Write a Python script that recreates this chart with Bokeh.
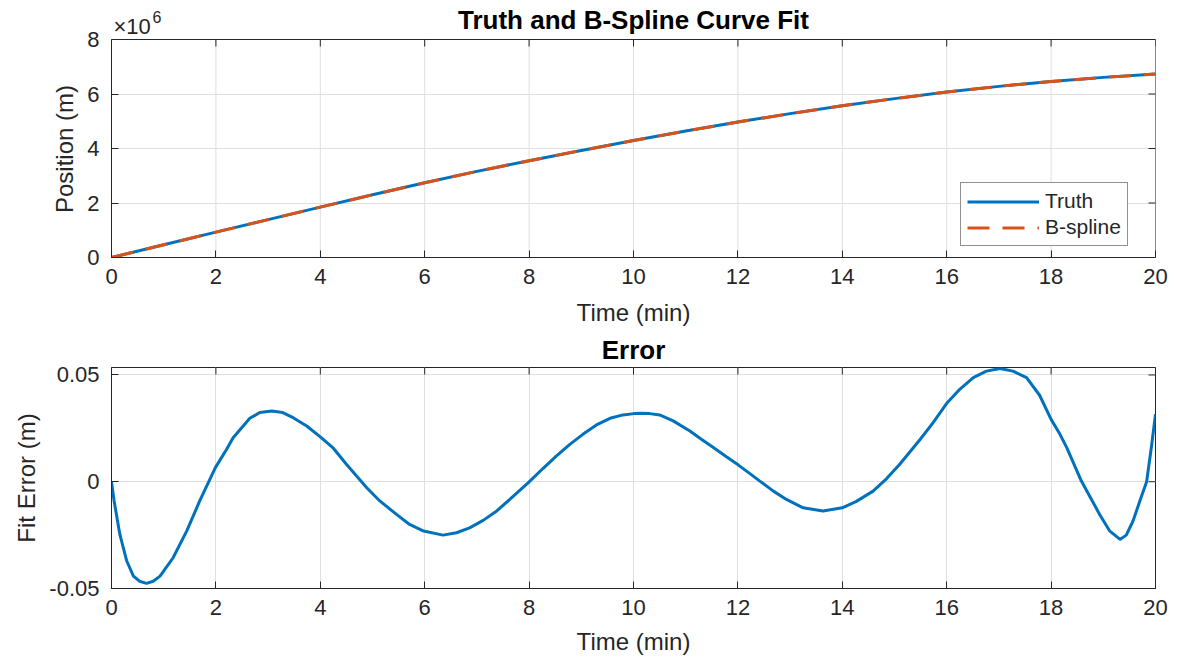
import math
from bokeh.plotting import figure
from bokeh.layouts import column
from bokeh.models import (Range1d, FixedTicker, CustomJSTickFormatter,
                          Legend, LegendItem, Label, Title)
from bokeh.embed import file_html
from bokeh.resources import INLINE

# ---------------- data ----------------
t_pos = [0, 1, 2, 3, 4, 5, 6, 7, 8, 9, 10, 11, 12, 13, 14, 15, 16, 17, 18, 19, 20]
pos_truth = [0, 0.465e6, 0.93e6, 1.39e6, 1.85e6, 2.30e6, 2.74e6, 3.16e6, 3.55e6, 3.93e6,
             4.29e6, 4.64e6, 4.97e6, 5.28e6, 5.57e6, 5.83e6, 6.07e6, 6.28e6, 6.46e6,
             6.61e6, 6.73e6]
pos_bspline = list(pos_truth)

t_err = [0, 0.05, 0.16, 0.29, 0.42, 0.54, 0.67, 0.8, 0.93, 1.18, 1.44, 1.69, 1.99, 2.2,
         2.33, 2.65, 2.84, 3.07, 3.28, 3.48, 3.74, 4.0, 4.25, 4.5, 4.89, 5.14, 5.46,
         5.71, 5.98, 6.35, 6.61, 6.86, 7.12, 7.38, 7.63, 7.98, 8.27, 8.52, 8.78, 9.03,
         9.29, 9.55, 9.8, 10.01, 10.15, 10.31, 10.5, 10.76, 11.08, 11.3, 11.53, 11.78,
         12.01, 12.23, 12.42, 12.68, 12.93, 13.25, 13.63, 14.0, 14.27, 14.59, 14.85,
         15.1, 15.49, 15.74, 16.01, 16.25, 16.51, 16.76, 17.02, 17.27, 17.53, 17.78,
         18.0, 18.17, 18.3, 18.58, 18.93, 19.12, 19.32, 19.44, 19.57, 19.7, 19.83,
         19.92, 20.0]
err = [0, -0.009, -0.0247, -0.037, -0.0442, -0.0466, -0.0476, -0.0466, -0.0442, -0.0356,
       -0.0231, -0.009, 0.0066, 0.0150, 0.0206, 0.0297, 0.0324, 0.0331, 0.0324, 0.030,
       0.0261, 0.021, 0.0157, 0.0082, -0.0028, -0.009, -0.0153, -0.020, -0.0231, -0.025,
       -0.0239, -0.0216, -0.0181, -0.0137, -0.0083, -0.0005, 0.0063, 0.012, 0.0175,
       0.0222, 0.0266, 0.0297, 0.0313, 0.0319, 0.0321, 0.0319, 0.0313, 0.0285, 0.0238,
       0.0199, 0.016, 0.0117, 0.0078, 0.0038, 0.0003, -0.0044, -0.0083, -0.0122,
       -0.0137, -0.0122, -0.0092, -0.0044, 0.0015, 0.0082, 0.0198, 0.0277, 0.037,
       0.0433, 0.0488, 0.0518, 0.053, 0.0518, 0.0488, 0.0405, 0.0292, 0.0222, 0.016,
       0.0003, -0.0153, -0.023, -0.027, -0.025, -0.0184, -0.009, 0.0, 0.016, 0.0316]

x_ticks = [0, 2, 4, 6, 8, 10, 12, 14, 16, 18, 20]
pos_ticks = [0, 2e6, 4e6, 6e6, 8e6]
err_ticks = [-0.05, 0, 0.05]
X_MIN, X_MAX = 0, 20
POS_MIN, POS_MAX = 0, 8e6
ERR_MIN, ERR_MAX = -0.05, 0.0535

BLUE = "#0072BD"
ORANGE = "#D95319"
AX = "#262626"
GRID = "#dfdfdf"
FONT = "Liberation Sans"
TICK_FS = "22px"
LAB_FS = "24px"
TITLE_FS = "26px"
TICK_LEN = 7
NBSP = "\u00a0"

W = 1177


def style_axes(p):
    for ax in p.axis:
        ax.axis_line_color = AX
        ax.major_tick_line_color = AX
        ax.major_tick_in = TICK_LEN
        ax.major_tick_out = 0
        ax.minor_tick_line_color = None
        ax.major_label_text_font = FONT
        ax.major_label_text_font_size = TICK_FS
        ax.major_label_text_color = AX
        ax.axis_label_text_font = FONT
        ax.axis_label_text_font_size = LAB_FS
        ax.axis_label_text_font_style = "normal"
        ax.axis_label_text_color = AX
        ax.major_label_standoff = 12
        ax.axis_label_standoff = 6
    p.xaxis.major_label_standoff = 11
    p.xaxis.axis_label_standoff = 12


def box_ticks(p, y_top, yticks):
    # inward tick marks on the top and right edges of the box
    p.ray(x=x_ticks, y=[y_top] * len(x_ticks), length=TICK_LEN, length_units="screen",
          angle=-math.pi / 2, line_color=AX, line_width=1)
    p.ray(x=[X_MAX] * len(yticks), y=yticks, length=TICK_LEN, length_units="screen",
          angle=math.pi, line_color=AX, line_width=1)


# ---------------- top figure ----------------
# the frame also holds the title area above the box (box = 0..8e6)
TOP_FRAME_H = 257
TOP_BOX_H = 218
p1 = figure(width=W, height=328, output_backend="svg", toolbar_location=None,
            x_range=Range1d(X_MIN, X_MAX),
            y_range=Range1d(POS_MIN, POS_MAX * TOP_FRAME_H / TOP_BOX_H),
            min_border_left=111, min_border_right=W - 1156, min_border_top=0,
            min_border_bottom=71)
p1.outline_line_color = None
p1.xgrid.visible = False
p1.ygrid.ticker = FixedTicker(ticks=pos_ticks)
p1.ygrid.grid_line_color = GRID
# vertical grid lines limited to the box
p1.segment(x0=x_ticks, y0=[POS_MIN] * len(x_ticks), x1=x_ticks,
           y1=[POS_MAX] * len(x_ticks), line_color=GRID, line_width=1)
# box top and right edges
p1.segment(x0=[X_MIN, X_MAX], y0=[POS_MAX, POS_MIN], x1=[X_MAX, X_MAX],
           y1=[POS_MAX, POS_MAX], line_color=AX, line_width=1)
box_ticks(p1, POS_MAX, pos_ticks)

r_truth = p1.line(t_pos, pos_truth, line_color=BLUE, line_width=3)
r_bs = p1.line(t_pos, pos_bspline, line_color=ORANGE, line_width=3, line_dash="22 13")

p1.xaxis.ticker = FixedTicker(ticks=x_ticks)
p1.yaxis.ticker = FixedTicker(ticks=pos_ticks)
p1.yaxis.bounds = (POS_MIN, POS_MAX)
p1.yaxis.formatter = CustomJSTickFormatter(code="return (tick/1e6).toFixed(0);")
p1.xaxis.axis_label = "Time (min)"
# trailing no-break spaces centre the rotated label on the box, not the frame
p1.yaxis.axis_label = "Position (m)" + NBSP * 6
style_axes(p1)

p1.add_layout(Label(x=(X_MIN + X_MAX) / 2, y=POS_MAX, y_offset=20,
                    text="Truth and B-Spline Curve Fit", text_align="center",
                    text_baseline="middle", text_font=FONT,
                    text_font_size=TITLE_FS, text_font_style="bold",
                    text_color="#000000"))
p1.add_layout(Label(x=X_MIN, y=POS_MAX, x_offset=2, y_offset=13, text="×10",
                    text_baseline="middle", text_font=FONT,
                    text_font_size="22px", text_color=AX))
p1.add_layout(Label(x=X_MIN, y=POS_MAX, x_offset=41, y_offset=23, text="6",
                    text_baseline="middle", text_font=FONT,
                    text_font_size="16px", text_color=AX))

legend = Legend(items=[LegendItem(label="Truth", renderers=[r_truth]),
                       LegendItem(label="B-spline", renderers=[r_bs])],
                location=(849, 11), orientation="vertical")
legend.label_text_font = FONT
legend.label_text_font_size = "21px"
legend.label_text_color = AX
legend.glyph_width = 72
legend.glyph_height = 21
legend.label_height = 21
legend.label_standoff = 6
legend.spacing = 2
legend.padding = 6
legend.margin = 0
legend.border_line_color = AX
legend.border_line_width = 1
legend.background_fill_color = "white"
legend.background_fill_alpha = 1
p1.add_layout(legend, "center")

# ---------------- bottom figure ----------------
p2 = figure(width=W, height=334, output_backend="svg", toolbar_location=None,
            x_range=Range1d(X_MIN, X_MAX), y_range=Range1d(ERR_MIN, ERR_MAX),
            min_border_left=111, min_border_right=W - 1155, min_border_top=39,
            min_border_bottom=74)
t2 = Title(text="Error", align="center", standoff=5, text_font=FONT,
           text_font_size=TITLE_FS, text_font_style="bold", text_color="#000000")
p2.add_layout(t2, "above")
p2.outline_line_color = AX
p2.xgrid.ticker = FixedTicker(ticks=x_ticks)
p2.ygrid.ticker = FixedTicker(ticks=err_ticks)
p2.grid.grid_line_color = GRID
box_ticks(p2, ERR_MAX, err_ticks)
p2.line(t_err, err, line_color=BLUE, line_width=3)
p2.xaxis.ticker = FixedTicker(ticks=x_ticks)
p2.yaxis.ticker = FixedTicker(ticks=err_ticks)
p2.yaxis.formatter = CustomJSTickFormatter(
    code="return tick === 0 ? '0' : tick.toFixed(2);")
p2.xaxis.axis_label = "Time (min)"
p2.yaxis.axis_label = "Fit Error (m)"
style_axes(p2)
p2.xaxis.axis_label_standoff = 10

layout = column(p1, p2, spacing=0)
open("out.html", "w").write(file_html(layout, INLINE))
